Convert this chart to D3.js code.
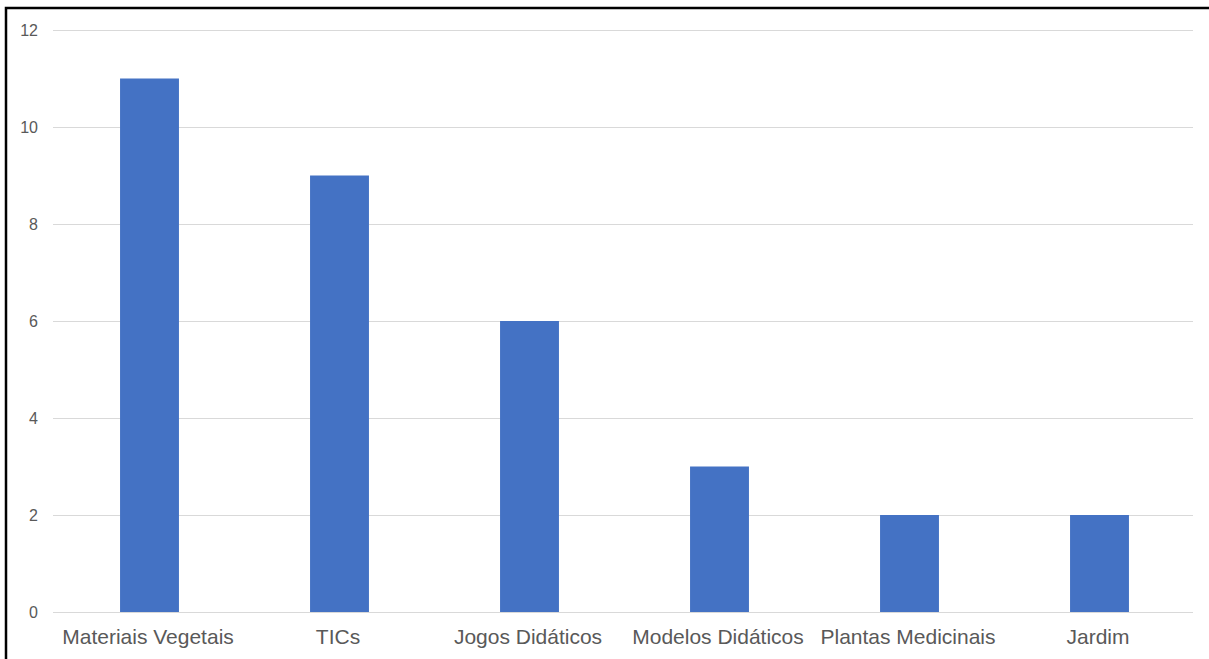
<!DOCTYPE html>
<html>
<head>
<meta charset="utf-8">
<script src="https://cdn.jsdelivr.net/npm/d3@7"></script>
<style>
html,body{margin:0;padding:0;background:#fff;}
svg{display:block;}
</style>
</head>
<body>
<svg id="chart" width="1209" height="659"></svg>
<script>
const categories = ["Materiais Vegetais","TICs","Jogos Didáticos","Modelos Didáticos","Plantas Medicinais","Jardim"];
const values = [11, 9, 6, 3, 2, 2];
const yTicks = [0, 2, 4, 6, 8, 10, 12];

const svg = d3.select("#chart");
const W = 1209, H = 659;
const m = {left: 53, right: 16, top: 30, bottom: 47};

// frame
svg.append("rect").attr("x", 6).attr("y", 8).attr("width", W + 20).attr("height", H + 20)
  .attr("fill", "none").attr("stroke", "#000").attr("stroke-width", 2.5);

const x = d3.scaleBand().domain(categories).range([m.left + 1.5, W - m.right + 1.5]).paddingInner(0.69).paddingOuter(0.345);
const y = d3.scaleLinear().domain([0, 12]).range([H - m.bottom, m.top]);

const grid = svg.append("g").attr("transform", `translate(${m.left},0)`)
  .call(d3.axisLeft(y).tickValues(yTicks).tickSize(-(W - m.right - m.left)).tickFormat(""));
grid.select(".domain").remove();
grid.selectAll("line").attr("stroke", "#d9d9d9").attr("stroke-width", 1);

const yAx = svg.append("g").attr("transform", `translate(${m.left},0)`)
  .call(d3.axisLeft(y).tickValues(yTicks).tickSize(0).tickPadding(15));
yAx.select(".domain").remove();
yAx.selectAll("text").attr("fill", "#595959").style("font-family", "Liberation Sans, Arial, sans-serif").style("font-size", "16px");

svg.append("g").selectAll("rect").data(values).join("rect")
  .attr("x", (d, i) => x(categories[i]))
  .attr("width", x.bandwidth())
  .attr("y", d => y(d))
  .attr("height", d => y(0) - y(d))
  .attr("fill", "#4472C4");

const xAx = svg.append("g").attr("transform", `translate(0,${H - m.bottom})`)
  .call(d3.axisBottom(d3.scaleBand().domain(categories).range([m.left, W - m.right])).tickSize(0).tickPadding(17));
xAx.select(".domain").remove();
xAx.selectAll("text").attr("fill", "#595959").style("font-family", "Liberation Sans, Arial, sans-serif").style("font-size", "21px");
</script>
</body>
</html>
